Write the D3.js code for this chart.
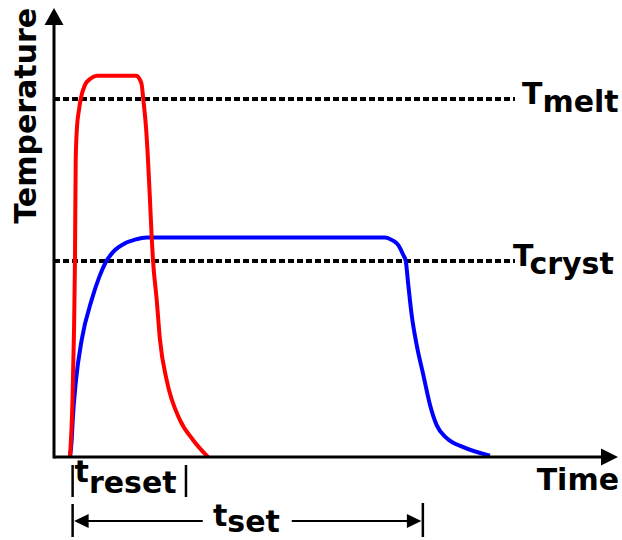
<!DOCTYPE html>
<html>
<head>
<meta charset="utf-8">
<script src="https://cdn.jsdelivr.net/npm/d3@7"></script>
<style>
    body { margin: 0; background: #fff; }
    text { font-family: "DejaVu Sans", sans-serif; font-weight: bold; fill: #000; font-size: 30px; }
</style>
</head>
<body>
<div id="chart"></div>
<script>
// reset pulse (red) : time / temperature, arbitrary units
const resetTime = [2.84, 3.28, 3.55, 3.72, 3.85, 4.08, 4.43, 4.73, 5.5, 6.38, 7.62, 14.54, 15.25, 15.55, 15.83, 16.31, 16.67, 17.02, 17.32, 17.55, 18.21, 18.79, 19.98, 22.34, 24.65, 27.3];
const resetTemp = [0, 12.7, 28.3, 43.9, 66.1, 73.5, 77.3, 79.7, 82.9, 84.2, 84.9, 84.9, 84.0, 82.9, 79.7, 73.5, 66.1, 57.2, 49.0, 43.9, 35.0, 26.1, 17.1, 8.2, 3.8, 0];

// set pulse (blue)
const setTime = [2.84, 3.14, 3.32, 3.9, 4.91, 6.68, 8.0, 9.1, 10.82, 12.29, 14.36, 16.44, 58.69, 59.93, 61.05, 61.93, 62.36, 62.82, 63.42, 64.31, 65.48, 66.67, 67.85, 69.63, 72.57, 77.3];
const setTemp = [0, 3.8, 8.2, 17.1, 26.1, 35.0, 40.0, 43.2, 46.1, 47.4, 48.4, 48.9, 48.9, 48.3, 47.2, 45.0, 43.7, 38.3, 31.6, 24.9, 18.3, 11.6, 7.1, 4.2, 2.2, 0.3];

// threshold levels
const levelNames = ["melt", "cryst"];
const levelTemps = [79.7, 43.7];
const levelEnd = 81.7;

// pulse width annotations
const resetSpan = [3.3, 23.4];
const setSpan = [3.3, 65.4];

const width = 622, height = 540;

const x = d3.scaleLinear().domain([0, 100]).range([54, 618]);
const y = d3.scaleLinear().domain([0, 100]).range([457, 8]);

const svg = d3.select("#chart")
    .append("svg")
    .attr("width", width)
    .attr("height", height);

const line = d3.line()
    .x(d => x(d[0]))
    .y(d => y(d[1]))
    .curve(d3.curveMonotoneX);

// threshold lines
svg.selectAll(".level")
    .data(levelTemps)
    .enter().append("line")
    .attr("x1", x(0))
    .attr("x2", x(levelEnd))
    .attr("y1", d => y(d))
    .attr("y2", d => y(d))
    .attr("stroke", "#000")
    .attr("stroke-width", 3.5)
    .attr("stroke-dasharray", "6,3")
    .attr("shape-rendering", "crispEdges");

// curves
svg.append("path")
    .datum(setTime.map((t, i) => [t, setTemp[i]]))
    .attr("d", line)
    .attr("fill", "none")
    .attr("stroke", "#0000ff")
    .attr("stroke-width", 4);

svg.append("path")
    .datum(resetTime.map((t, i) => [t, resetTemp[i]]))
    .attr("d", line)
    .attr("fill", "none")
    .attr("stroke", "#ff0000")
    .attr("stroke-width", 4);

// axes with arrow heads
svg.append("line")
    .attr("x1", x(0)).attr("x2", x(100) - 6)
    .attr("y1", y(0)).attr("y2", y(0))
    .attr("stroke", "#000").attr("stroke-width", 3);

svg.append("line")
    .attr("x1", x(0)).attr("x2", x(0))
    .attr("y1", y(0) + 1.5).attr("y2", y(100) + 6)
    .attr("stroke", "#000").attr("stroke-width", 3);

svg.append("path")
    .attr("d", `M${x(100)},${y(0)} L${x(100) - 17},${y(0) - 8.5} L${x(100) - 17},${y(0) + 8.5}Z`)
    .attr("fill", "#000");

svg.append("path")
    .attr("d", `M${x(0)},${y(100)} L${x(0) - 9.5},${y(100) + 17} L${x(0) + 9.5},${y(100) + 17}Z`)
    .attr("fill", "#000");

// axis titles
svg.append("text")
    .attr("transform", `translate(36,${y(76)}) rotate(-90)`)
    .attr("text-anchor", "middle")
    .text("Temperature");

svg.append("text")
    .attr("x", 619)
    .attr("y", 490)
    .attr("text-anchor", "end")
    .text("Time");

// threshold labels
const levelLabelX = [522, 513];
const levelLabel = svg.selectAll(".level-label")
    .data(levelTemps)
    .enter().append("text")
    .attr("x", (d, i) => levelLabelX[i])
    .attr("y", d => y(d) + 5)

levelLabel.append("tspan").text("T");
levelLabel.append("tspan")
    .attr("dy", 8)
    .text((d, i) => levelNames[i]);

// t_reset bracket
const bar = (xv, y1, y2) => svg.append("line")
    .attr("x1", x(xv)).attr("x2", x(xv))
    .attr("y1", y1).attr("y2", y2)
    .attr("stroke", "#000").attr("stroke-width", 2.5);

bar(resetSpan[0], 465, 497);
bar(resetSpan[1], 465, 497);

const tReset = svg.append("text")
    .attr("x", x(resetSpan[0]) + 2)
    .attr("y", 482);
tReset.append("tspan").text("t");
tReset.append("tspan").attr("dy", 11).text("reset");

// t_set arrow
bar(setSpan[0], 504, 537);
bar(setSpan[1], 503, 537);

const ay = 521;
const tsetMid = (x(setSpan[0]) + x(setSpan[1])) / 2;

svg.append("line")
    .attr("x1", x(setSpan[0]) + 10).attr("x2", tsetMid - 45)
    .attr("y1", ay).attr("y2", ay)
    .attr("stroke", "#000").attr("stroke-width", 2);
svg.append("line")
    .attr("x1", tsetMid + 44).attr("x2", x(setSpan[1]) - 10)
    .attr("y1", ay).attr("y2", ay)
    .attr("stroke", "#000").attr("stroke-width", 2);

svg.append("path")
    .attr("d", `M${x(setSpan[0]) + 1.5},${ay} L${x(setSpan[0]) + 16},${ay - 7} L${x(setSpan[0]) + 16},${ay + 7}Z`)
    .attr("fill", "#000");
svg.append("path")
    .attr("d", `M${x(setSpan[1]) - 1.5},${ay} L${x(setSpan[1]) - 16},${ay - 7} L${x(setSpan[1]) - 16},${ay + 7}Z`)
    .attr("fill", "#000");

const tSet = svg.append("text")
    .attr("x", 213)
    .attr("y", 526);
tSet.append("tspan").text("t");
tSet.append("tspan").attr("dy", 6).text("set");
</script>
</body>
</html>
